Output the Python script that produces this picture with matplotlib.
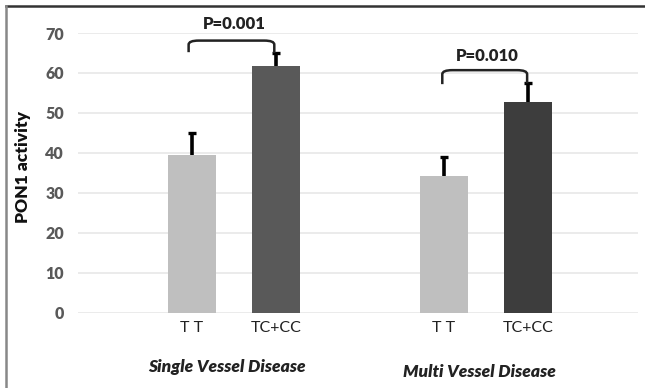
import numpy as np
import matplotlib
matplotlib.use("Agg")
import matplotlib.pyplot as plt
from matplotlib.path import Path
from matplotlib.patches import PathPatch

plt.rcParams['font.family'] = ['Lato', 'DejaVu Sans']

groups = ['Single Vessel Disease', 'Multi Vessel Disease']
genotypes = ['T T', 'TC+CC']
means = [39.5, 61.7, 34.3, 52.7]
errs = [5.4, 3.2, 4.7, 4.7]
pvals = ['P=0.001', 'P=0.010']
colors = ['#bfbfbf', '#595959', '#bfbfbf', '#3d3d3d']

pos = np.array([0, 1, 3, 4])

fig = plt.figure(figsize=(6.45, 3.88), dpi=100)
ax = fig.add_axes([78/645, 1-312.7/388, (638-78)/645, (312.7-33)/388])

ax.bar(pos, means, width=0.57, color=colors, zorder=2)
eb = ax.errorbar(pos, means, yerr=[np.zeros(4), errs], fmt='none', ecolor='black',
                 elinewidth=2.6, capsize=3, capthick=2.4, zorder=3)
eb[1][0].set_visible(False)  # no cap at bar top

ax.set_xlim(-1.357, 5.31)
ax.set_ylim(0, 70)
ax.set_yticks(np.arange(0, 71, 10))
ax.yaxis.grid(True, color='#e8e8e8', linewidth=1.2, zorder=0)
ax.set_axisbelow(True)
for s in ax.spines.values():
    s.set_visible(False)
ax.tick_params(length=0)
ax.tick_params(axis='y', labelsize=11.5, labelcolor='#595959', pad=10)
for t in ax.get_yticklabels():
    t.set_fontweight('heavy')
ax.set_xticks(pos)
ax.set_xticklabels(genotypes * 2, fontsize=11.5, color='#222222')
ax.tick_params(axis='x', pad=6)


def bracket(x0, x1, ylo0, ylo1, ytop, r=0.12, rr=1.0):
    verts = [(x0, ylo0), (x0, ytop - rr), (x0, ytop), (x0 + r, ytop),
             (x1 - r, ytop), (x1, ytop), (x1, ytop - rr), (x1, ylo1)]
    codes = [Path.MOVETO, Path.LINETO, Path.CURVE3, Path.CURVE3,
             Path.LINETO, Path.CURVE3, Path.CURVE3, Path.LINETO]
    ax.add_patch(PathPatch(Path(verts, codes), fill=False, lw=1.8,
                           edgecolor='#222222', clip_on=False, zorder=4))


bracket(-0.04, 0.98, 65.2, 65.0, 68.1)
bracket(2.98, 3.99, 57.2, 57.4, 60.7)
ax.text(0.5, 72.3, pvals[0], ha='center', va='center', fontsize=12,
        fontweight='heavy', color='#222222')
ax.text(3.52, 64.2, pvals[1], ha='center', va='center', fontsize=12,
        fontweight='heavy', color='#222222')

fig.text(23/645, 1-167/388, 'PON1 activity', rotation=90, ha='center',
         va='center', fontsize=12.5, fontweight='heavy', color='#111111')

gx = [0.42, 3.42]
gy = [1-367/388, 1-372/388]
for g, x, y in zip(groups, gx, gy):
    xf = ax.transData.transform((x, 0))[0] / fig.bbox.width
    fig.text(xf, y, g, ha='center', va='center', fontsize=12.5,
             fontweight='heavy', fontstyle='italic', color='#222222')

# outer frame: top and left only
fig.add_artist(plt.Line2D([6/645, 1], [1-6/388, 1-6/388], color='#333333', lw=1.8))
fig.add_artist(plt.Line2D([6/645, 6/645], [0, 1-6/388], color='#888888', lw=1.8))

fig.savefig('out.png', dpi=100)
